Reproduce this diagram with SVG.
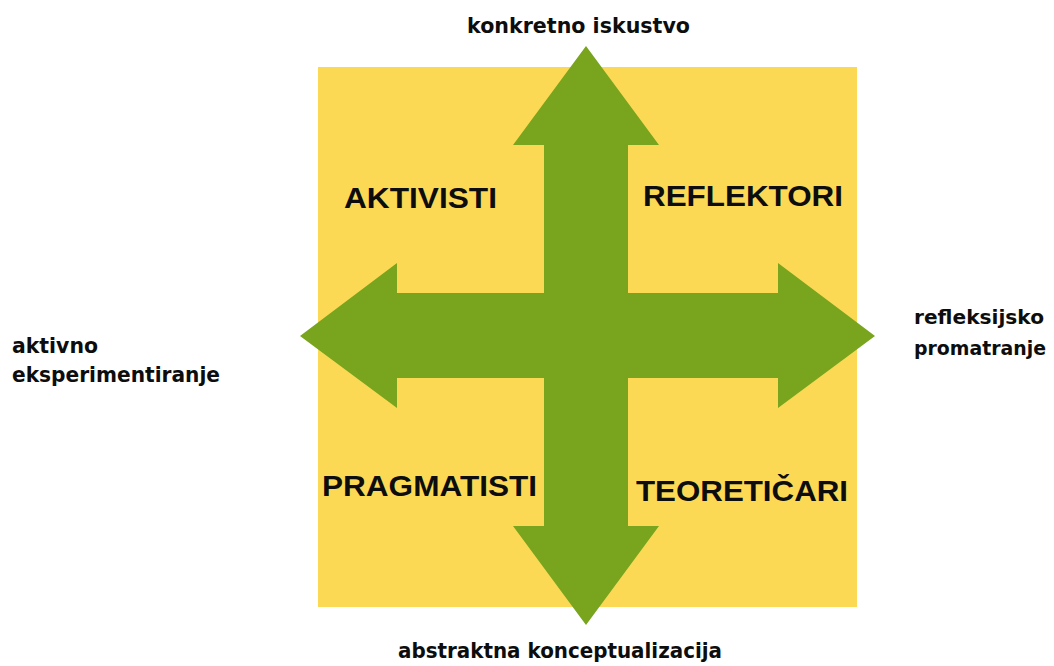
<svg xmlns="http://www.w3.org/2000/svg" width="1054" height="666" viewBox="0 0 1054 666">
<style>
.axis{font-family:"DejaVu Sans","Liberation Sans",sans-serif;font-weight:bold;font-size:21px;fill:#0d0d0d}
.axis-r{font-size:19.5px}
.quad{font-family:"Liberation Sans",Arial,sans-serif;font-weight:bold;font-size:30px;fill:#0d0d0d}
</style>
<rect width="1054" height="666" fill="#ffffff"/>
<g id="square">
<rect x="318" y="67" width="539" height="540" fill="#fcd955"/>
</g>
<g id="connectors">
<polygon fill="#78a51d" points="586,46 659,145 628,145 628,293 778,293 778,263 875,336 778,408 778,378 628,378 628,526 659,526 586,625 513,526 544,526 544,378 397,378 397,408 300,336 397,263 397,293 544,293 544,145 513,145"/>
</g>
<g id="top-label"><text class="axis" x="467" y="33" textLength="223" lengthAdjust="spacingAndGlyphs">konkretno iskustvo</text></g>
<g id="bottom-label"><text class="axis" x="398" y="658" textLength="324" lengthAdjust="spacingAndGlyphs">abstraktna konceptualizacija</text></g>
<g id="left-label">
<text class="axis" x="12" y="353" textLength="86" lengthAdjust="spacingAndGlyphs">aktivno</text>
<text class="axis" x="12" y="382" textLength="208" lengthAdjust="spacingAndGlyphs">eksperimentiranje</text>
</g>
<g id="right-label">
<text class="axis axis-r" x="914" y="324" textLength="130" lengthAdjust="spacingAndGlyphs">refleksijsko</text>
<text class="axis axis-r" x="914" y="355" textLength="132" lengthAdjust="spacingAndGlyphs">promatranje</text>
</g>
<g id="aktivisti"><text class="quad" x="344" y="208" textLength="153" lengthAdjust="spacingAndGlyphs">AKTIVISTI</text></g>
<g id="reflektori"><text class="quad" x="643" y="206" textLength="200" lengthAdjust="spacingAndGlyphs">REFLEKTORI</text></g>
<g id="pragmatisti"><text class="quad" x="322" y="496" textLength="215" lengthAdjust="spacingAndGlyphs">PRAGMATISTI</text></g>
<g id="teoreticari"><text class="quad" x="636" y="501" textLength="212" lengthAdjust="spacingAndGlyphs">TEORETIČARI</text></g>
</svg>
